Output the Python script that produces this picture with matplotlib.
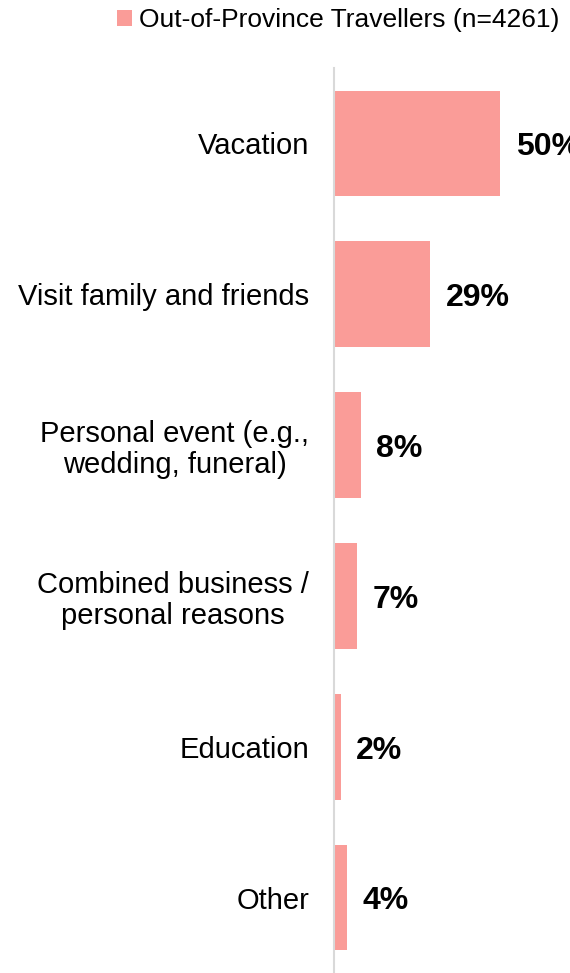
import numpy as np
import matplotlib
matplotlib.use("Agg")
import matplotlib.pyplot as plt

plt.rcParams['font.family'] = ['Liberation Sans', 'DejaVu Sans']

# data
categories = ["Vacation", "Visit family and friends", "Personal event (e.g.,\nwedding, funeral)",
              "Combined business /\npersonal reasons", "Education", "Other"]
values = [50, 29, 8, 7, 2, 4]
series_name = "Out-of-Province Travellers (n=4261)"

bar_color = "#FA9C98"

fig = plt.figure(figsize=(5.70, 9.73), dpi=100)
ax = fig.add_axes([334 / 570, 0, 1 - 334 / 570, 1 - 68 / 973])

y = np.arange(len(categories))
bars = ax.barh(y, values, height=0.7, color=bar_color, label=series_name)

ax.set_ylim(len(categories) - 0.5, -0.5)
ax.set_xlim(0, 71)

for yi, v in zip(y, values):
    ax.text(v + 4.7, yi + 0.025, str(v) + "%", va="center", ha="left", fontsize=23, fontweight="bold")

ax.set_yticks(y)
ax.set_yticklabels(categories, fontsize=21, multialignment="center", linespacing=1.15)
ax.tick_params(axis="y", length=0, pad=18)
ax.set_xticks([])

for s in ["top", "right", "bottom"]:
    ax.spines[s].set_visible(False)
ax.spines["left"].set_color("#D9D9D9")
ax.spines["left"].set_linewidth(1.5)

fig.legend(handles=[bars], labels=[series_name], loc="center left",
           bbox_to_anchor=(117 / 570, 1 - 20 / 973), frameon=False, fontsize=19,
           handlelength=0.55, handleheight=0.55, handletextpad=0.3, borderpad=0, borderaxespad=0)

fig.savefig("out.png", dpi=100)
